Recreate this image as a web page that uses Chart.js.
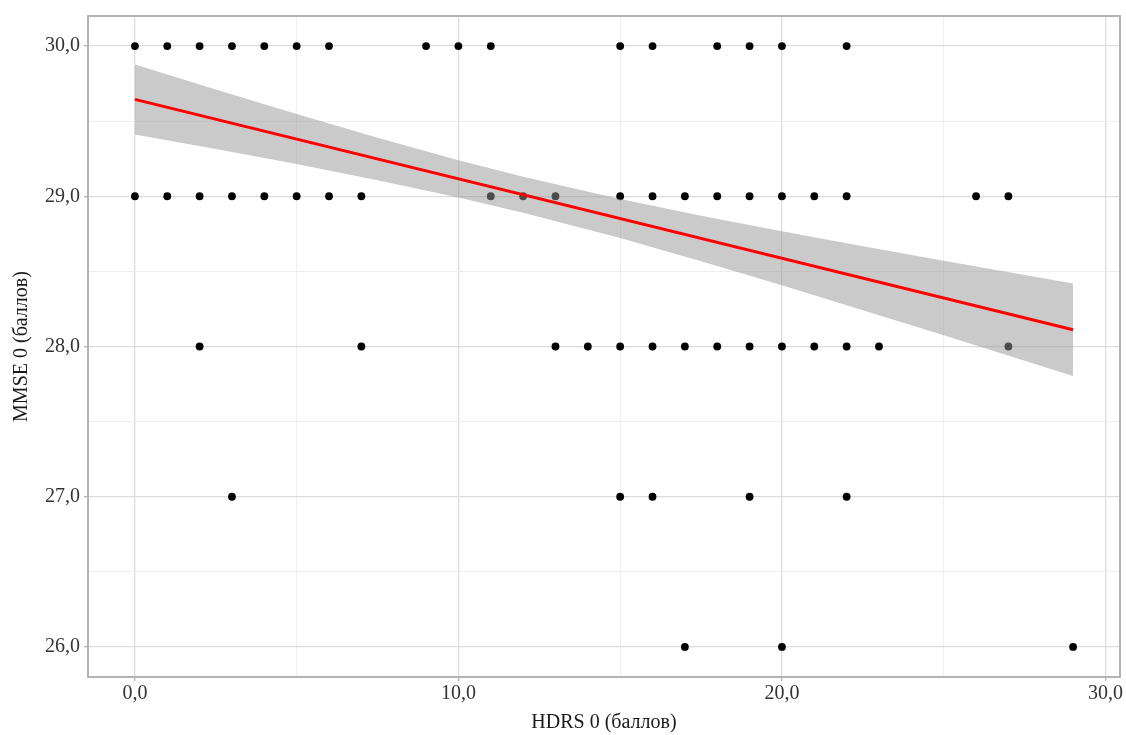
<!DOCTYPE html>
<html>
<head>
<meta charset="utf-8">
<script src="https://cdn.jsdelivr.net/npm/chart.js@4.4.1/dist/chart.umd.min.js"></script>
<style>
  html, body { margin: 0; padding: 0; background: #ffffff; }
  canvas { display: block; }
</style>
</head>
<body>
<canvas id="c" width="1126" height="735"></canvas>
<script>
// HDRS scores of the patients, grouped by their MMSE score
const mmseLevels   = [30, 29, 28, 27, 26];
const hdrsAtMmse30 = [0, 1, 2, 3, 4, 5, 6, 9, 10, 11, 15, 16, 18, 19, 20, 22];
const hdrsAtMmse29 = [0, 1, 2, 3, 4, 5, 6, 7, 11, 12, 13, 15, 16, 17, 18, 19, 20, 21, 22, 26, 27];
const hdrsAtMmse28 = [2, 7, 13, 14, 15, 16, 17, 18, 19, 20, 21, 22, 23, 27];
const hdrsAtMmse27 = [3, 15, 16, 19, 22];
const hdrsAtMmse26 = [17, 20, 29];

// linear fit: MMSE on HDRS
const fitX = [0, 29];
const fitY = [29.645, 28.111];

// confidence band around the fit
const bandX     = [0, 2.5, 5, 7.5, 10, 12, 15, 17.5, 20, 22.5, 25, 29];
const bandUpper = [29.878, 29.711, 29.548, 29.389, 29.240, 29.130, 28.982, 28.870, 28.767, 28.667, 28.571, 28.419];
const bandLower = [29.412, 29.314, 29.214, 29.107, 28.991, 28.890, 28.722, 28.568, 28.407, 28.242, 28.075, 27.803];

// axis ticks (labelled) and minor grid positions
const xTicks = [0, 10, 20, 30];
const xMinor = [5, 15, 25];
const yTicks = [26, 27, 28, 29, 30];
const yMinor = [26.5, 27.5, 28.5, 29.5];

const xTitle = 'HDRS 0 (баллов)';
const yTitle = 'MMSE 0 (баллов)';

const groups = [hdrsAtMmse30, hdrsAtMmse29, hdrsAtMmse28, hdrsAtMmse27, hdrsAtMmse26];
const scatterPoints = [];
groups.forEach((xs, i) => xs.forEach(x => scatterPoints.push({ x: x, y: mmseLevels[i] })));

const fitPoints   = fitX.map((x, i) => ({ x: x, y: fitY[i] }));
const upperPoints = bandX.map((x, i) => ({ x: x, y: bandUpper[i] }));
const lowerPoints = bandX.map((x, i) => ({ x: x, y: bandLower[i] }));

const fmt = v => v.toFixed(1).replace('.', ',');
const FONT = "'Liberation Serif', 'Times New Roman', serif";

const gridStyle = (major) => ({
  color: ctx => major.includes(ctx.tick && ctx.tick.value) ? '#dcdcdc' : '#eeeeee',
  lineWidth: ctx => major.includes(ctx.tick && ctx.tick.value) ? 1.3 : 1,
  tickColor: ctx => major.includes(ctx.tick && ctx.tick.value) ? '#b3b3b3' : 'rgba(0,0,0,0)',
  tickLength: 4,
  drawTicks: true
});

// grey frame around the plotting panel
const panelFrame = {
  id: 'panelFrame',
  afterDatasetsDraw(chart) {
    const a = chart.chartArea, ctx = chart.ctx;
    ctx.save();
    ctx.strokeStyle = '#b3b3b3';
    ctx.lineWidth = 2;
    ctx.strokeRect(a.left, a.top, a.right - a.left, a.bottom - a.top);
    ctx.restore();
  }
};

new Chart(document.getElementById('c'), {
  data: {
    datasets: [
      {
        type: 'line', data: fitPoints, order: 0,
        borderColor: '#ff0000', borderWidth: 3, pointRadius: 0, tension: 0, fill: false
      },
      {
        type: 'line', data: upperPoints, order: 1,
        borderColor: 'rgba(0,0,0,0)', borderWidth: 0, pointRadius: 0, tension: 0,
        fill: '+1', backgroundColor: 'rgba(149,149,149,0.5)'
      },
      {
        type: 'line', data: lowerPoints, order: 1,
        borderColor: 'rgba(0,0,0,0)', borderWidth: 0, pointRadius: 0, tension: 0, fill: false
      },
      {
        type: 'scatter', data: scatterPoints, order: 2,
        backgroundColor: '#000000', borderWidth: 0, pointRadius: 3.9
      }
    ]
  },
  options: {
    responsive: false,
    devicePixelRatio: 1,
    animation: false,
    layout: { padding: { top: 15, right: 6, left: 0, bottom: 0 } },
    plugins: { legend: { display: false }, tooltip: { enabled: false } },
    scales: {
      x: {
        type: 'linear', position: 'bottom',
        min: -1.45, max: 30.45,
        afterBuildTicks: s => { s.ticks = xTicks.concat(xMinor).sort((a, b) => a - b).map(v => ({ value: v })); },
        afterFit: s => { s.height = 58; },
        grid: gridStyle(xTicks),
        border: { display: false },
        ticks: {
          autoSkip: false, maxRotation: 0, padding: 1,
          color: '#333333', font: { family: FONT, size: 20 },
          callback: v => xTicks.includes(v) ? fmt(v) : ''
        },
        title: {
          display: true, text: xTitle, color: '#1a1a1a',
          font: { family: FONT, size: 20 }, padding: { top: 0, bottom: 0 }
        }
      },
      y: {
        type: 'linear', position: 'left',
        min: 25.8, max: 30.2,
        afterBuildTicks: s => { s.ticks = yTicks.concat(yMinor).sort((a, b) => a - b).map(v => ({ value: v })); },
        afterFit: s => { s.width = 88; },
        grid: gridStyle(yTicks),
        border: { display: false },
        ticks: {
          autoSkip: false, padding: 4,
          color: '#333333', font: { family: FONT, size: 20 },
          callback: v => yTicks.includes(v) ? fmt(v) : ''
        },
        title: {
          display: true, text: yTitle, color: '#1a1a1a',
          font: { family: FONT, size: 20 }, padding: { top: 10, bottom: 0 }
        }
      }
    }
  },
  plugins: [panelFrame]
});
</script>
</body>
</html>
